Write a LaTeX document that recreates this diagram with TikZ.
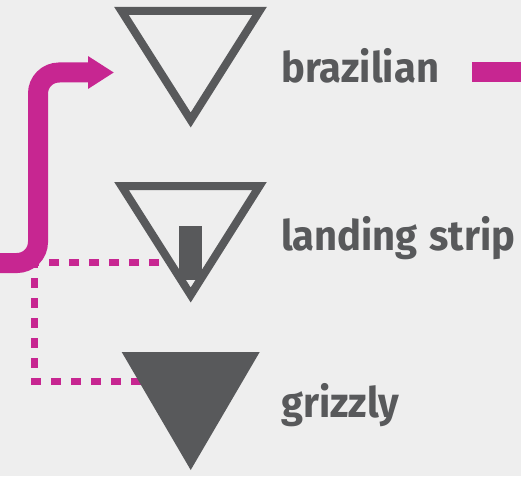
\documentclass[tikz,border=0pt]{standalone}
\usepackage{fontspec}
\setmainfont{Fira Sans}[FakeStretch=0.95]
\usetikzlibrary{arrows.meta}
\definecolor{bg}{HTML}{EEEEEE}
\definecolor{slate}{HTML}{58595B}
\definecolor{berry}{RGB}{199,38,145}
\tikzset{tri/.style={draw=slate,line width=8pt,line join=miter,miter limit=10},
 solidtri/.style={fill=slate},
 lbl/.style={font=\fontsize{42}{42}\selectfont\bfseries,text=slate,anchor=base west,inner sep=0pt},
 flow/.style={draw=berry,line width=20pt,rounded corners=21pt},
 dots/.style={draw=berry,line width=7pt,dash pattern=on 10pt off 10pt}}

\begin{document}
\begin{tikzpicture}[x=1pt,y=-1pt]
\useasboundingbox[fill=bg] (0,0) rectangle (521,476);
% connector ends
\coordinate (in) at (-20,263);
\coordinate (brzIn) at (114,72.5);
\coordinate (brzOut) at (472,72.3);
\coordinate (out) at (540,72.3);
\coordinate (lsIn) at (159,262.7);
\coordinate (grzIn) at (160,381.7);
% dotted links
\draw[dots] (lsIn) -- (34.5,262.7) |- (grzIn);
% triangles
\draw[tri] (121.5,11) -- (259.5,11) -- (190.7,120) -- cycle;
\draw[tri] (121.5,186) -- (259.5,186) -- (190.7,295) -- cycle;
\fill[slate] (179,226) rectangle (202,280);
\fill[solidtri] (121.7,352) -- (259.7,352) -- (190.7,470) -- cycle;
% thick flow
\draw[flow,-{Triangle[length=26pt,width=31pt]}] (in) -- ++(58,0) |- (brzIn);
\draw[flow] (brzOut) -- (out);
% labels
\node[lbl] (brz) at (281,83) {brazilian};
\node[lbl] (ls) at (281,250) {landing\hspace{2pt} strip};
\node[lbl] (grz) at (281,417) {grizzly};
\end{tikzpicture}
\end{document}
